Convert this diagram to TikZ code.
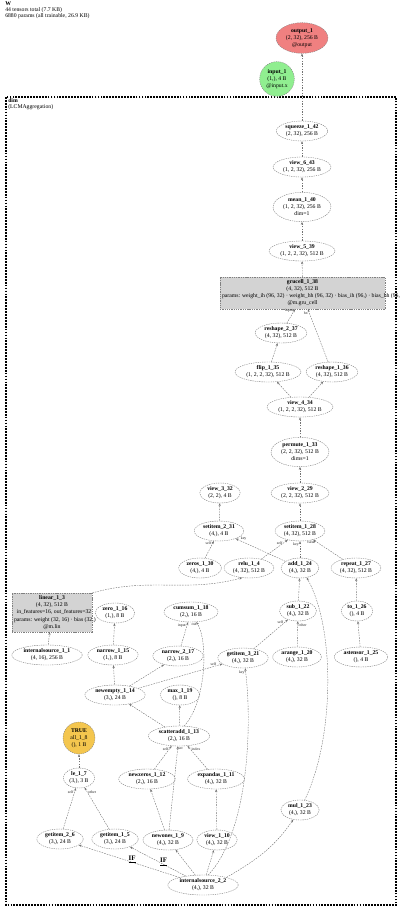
\documentclass[tikz,border=0pt]{standalone}
\usepackage{fontspec}
\setmainfont{Liberation Serif}
\usetikzlibrary{arrows.meta,shapes.geometric}
\definecolor{outred}{HTML}{F08080}
\definecolor{ingreen}{HTML}{90EE90}
\definecolor{trueyel}{HTML}{F4C64E}
\definecolor{modgray}{HTML}{D3D3D3}
\newcommand{\fs}{\fontsize{4.3}{5.3}\selectfont}
\tikzset{
  op/.style={ellipse,draw=black!50,dash pattern=on 1pt off .7pt,line width=.3pt,fill=white,
             font=\fs,align=center,inner xsep=1.2pt,inner ysep=.1pt,minimum height=15pt},
  mdl/.style={rectangle,draw=black!50,dash pattern=on 1pt off .7pt,line width=.3pt,
              fill=modgray,font=\fs,align=center,inner sep=1.5pt},
  ed/.style ={-{Stealth[length=2.2pt,width=1.7pt]},draw=black!55,line width=.3pt,
              dash pattern=on 1.2pt off .8pt},
  elb/.style={font=\fontsize{2.9}{3}\selectfont,inner sep=.3pt,text=black!85},
  iflb/.style={font=\fontsize{5.2}{6}\selectfont\bfseries,inner sep=.5pt},
  captxt/.style={anchor=north west,font=\fontsize{4.3}{4.6}\selectfont,align=left,inner sep=0pt},
}
\begin{document}
\begin{tikzpicture}[x=0.75pt,y=-0.75pt]
  \useasboundingbox (0,0) rectangle (400,911);
  \node[captxt] (hdr) at (5,1) {\textbf{W}\\44 tensors total (7.7 KB)\\6880 params (all trainable, 26.9 KB)};
  % module cluster
  \draw[line width=1.4pt,dash pattern=on 1.3pt off .9pt] (6,97) rectangle (396,905);
  \node[captxt] (dimlbl) at (8,98.5) {\textbf{dim}\\(LCMAggregation)};
  % input / output
  \node[op,fill=outred,minimum width=39pt,minimum height=23pt] (output_1) at (302,38)
       {\textbf{output\_1}\\(2, 32), 256 B\\@output};
  \node[op,circle,fill=ingreen,minimum size=26pt] (input_1) at (277,79)
       {\textbf{input\_1}\\(1,), 4 B\\@input.x};
  % upper chain
  \node[op] (squeeze_1_42) at (302,131) {\textbf{squeeze\_1\_42}\\(2, 32), 256 B};
  \node[op] (view_6_43) at (302,167) {\textbf{view\_6\_43}\\(1, 2, 32), 256 B};
  \node[op,minimum height=22pt] (mean_1_40) at (302,207) {\textbf{mean\_1\_40}\\(1, 2, 32), 256 B\\dim=1};
  \node[op] (view_5_39) at (302,251) {\textbf{view\_5\_39}\\(1, 2, 2, 32), 512 B};
  \node[mdl,minimum width=123.75pt,minimum height=24pt] (grucell_1_38) at (302.5,293)
       {\textbf{grucell\_1\_38}\\(4, 32), 512 B\\
        \makebox[120.75pt][l]{params: weight\_ih (96, 32) · weight\_hh (96, 32) · bias\_ih (96,) · bias\_hh (96,)}\\
        @m.gru\_cell};
  \node[op] (reshape_2_37) at (281,333) {\textbf{reshape\_2\_37}\\(4, 32), 512 B};
  \node[op] (flip_1_35) at (268,372) {\textbf{flip\_1\_35}\\(1, 2, 2, 32), 512 B};
  \node[op] (reshape_1_36) at (332,372) {\textbf{reshape\_1\_36}\\(4, 32), 512 B};
  \node[op] (view_4_34) at (300,407) {\textbf{view\_4\_34}\\(1, 2, 2, 32), 512 B};
  \node[op,minimum height=22pt] (permute_1_33) at (300,452) {\textbf{permute\_1\_33}\\(2, 2, 32), 512 B\\dims=1};
  \node[op] (view_2_29) at (300,493) {\textbf{view\_2\_29}\\(2, 2, 32), 512 B};
  \node[op] (view_3_32) at (220,493) {\textbf{view\_3\_32}\\(2, 2), 4 B};
  \node[op] (setitem_2_31) at (219,531) {\textbf{setitem\_2\_31}\\(4,), 4 B};
  \node[op] (setitem_1_28) at (300,531) {\textbf{setitem\_1\_28}\\(4, 32), 512 B};
  \node[op] (zeros_1_30) at (200,568) {\textbf{zeros\_1\_30}\\(4,), 4 B};
  \node[op] (relu_1_4) at (249,568) {\textbf{relu\_1\_4}\\(4, 32), 512 B};
  \node[op] (add_1_24) at (300,568) {\textbf{add\_1\_24}\\(4,), 32 B};
  \node[op] (repeat_1_27) at (356,568) {\textbf{repeat\_1\_27}\\(4, 32), 512 B};
  % middle rows
  \node[mdl,minimum width=60pt,minimum height=29pt] (linear_1_3) at (52,612.5)
       {\textbf{linear\_1\_3}\\(4, 32), 512 B\\
        \makebox[57pt][l]{\hspace{2pt}in\_features=16, out\_features=32}\\
        \makebox[57pt][l]{params: weight (32, 16) · bias (32,)}\\@m.lin};
  \node[op] (zero_1_16) at (115,613) {\textbf{zero\_1\_16}\\(1,), 8 B};
  \node[op] (cumsum_1_18) at (191,612) {\textbf{cumsum\_1\_18}\\(2,), 16 B};
  \node[op] (sub_1_22) at (298,611) {\textbf{sub\_1\_22}\\(4,), 32 B};
  \node[op] (to_1_26) at (357,611) {\textbf{to\_1\_26}\\(), 4 B};
  \node[op] (internalsource_1_1) at (47,655) {\textbf{internalsource\_1\_1}\\(4, 16), 256 B};
  \node[op] (narrow_1_15) at (113,655) {\textbf{narrow\_1\_15}\\(1,), 8 B};
  \node[op] (narrow_2_17) at (178,656) {\textbf{narrow\_2\_17}\\(2,), 16 B};
  \node[op] (getitem_3_21) at (243,658) {\textbf{getitem\_3\_21}\\(4,), 32 B};
  \node[op] (arange_1_20) at (297,657) {\textbf{arange\_1\_20}\\(4,), 32 B};
  \node[op] (astensor_1_25) at (361,657) {\textbf{astensor\_1\_25}\\(), 4 B};
  \node[op] (newempty_1_14) at (115,695) {\textbf{newempty\_1\_14}\\(3,), 24 B};
  \node[op] (max_1_19) at (180,695) {\textbf{max\_1\_19}\\(), 8 B};
  \node[op,circle,fill=trueyel,minimum size=24pt] (all_1_8) at (79,738)
       {\textbf{TRUE}\\all\_1\_8\\(), 1 B};
  \node[op] (scatteradd_1_13) at (179,736) {\textbf{scatteradd\_1\_13}\\(2,), 16 B};
  \node[op] (le_1_7) at (79,778) {\textbf{le\_1\_7}\\(3,), 3 B};
  \node[op] (newzeros_1_12) at (147,779) {\textbf{newzeros\_1\_12}\\(2,), 16 B};
  \node[op] (expandas_1_11) at (216,779) {\textbf{expandas\_1\_11}\\(4,), 32 B};
  \node[op] (mul_1_23) at (300,810) {\textbf{mul\_1\_23}\\(4,), 32 B};
  % bottom rows
  \node[op] (getitem_2_6) at (60,839) {\textbf{getitem\_2\_6}\\(3,), 24 B};
  \node[op] (getitem_1_5) at (115,839) {\textbf{getitem\_1\_5}\\(3,), 24 B};
  \node[op] (newones_1_9) at (168,840) {\textbf{newones\_1\_9}\\(4,), 32 B};
  \node[op] (view_1_10) at (217,840) {\textbf{view\_1\_10}\\(4,), 32 B};
  \node[op] (internalsource_2_2) at (203,885) {\textbf{internalsource\_2\_2}\\(4,), 32 B};
  % edges
  \draw[ed] (squeeze_1_42) -- (output_1);
  \draw[ed] (view_6_43) -- (squeeze_1_42);
  \draw[ed] (mean_1_40) -- (view_6_43);
  \draw[ed] (view_5_39) -- (mean_1_40);
  \draw[ed] (grucell_1_38) -- (view_5_39);
  \draw[ed] (reshape_2_37) -- ([xshift=-5.6pt]grucell_1_38.south)
        node[elb,pos=.93,left=.6pt]{input};
  \draw[ed] (reshape_1_36) -- ([xshift=4pt]grucell_1_38.south)
        node[elb,pos=.93,left=.6pt]{hx};
  \draw[ed] (flip_1_35) -- (reshape_2_37);
  \draw[ed] (view_4_34) -- (flip_1_35);
  \draw[ed] (view_4_34) -- (reshape_1_36);
  \draw[ed] (permute_1_33) -- (view_4_34);
  \draw[ed] (view_2_29) -- (permute_1_33);
  \draw[ed] (setitem_1_28) -- (view_2_29);
  \draw[ed] (setitem_2_31) -- (view_3_32);
  \draw[ed] (zeros_1_30) -- (setitem_2_31) node[elb,pos=.85,left=.5pt]{self};
  \draw[ed] (add_1_24) -- (setitem_2_31) node[elb,pos=.9,above right=-.3pt]{key};
  \draw[ed] (relu_1_4) -- (setitem_1_28) node[elb,pos=.85,left=.5pt]{self};
  \draw[ed] (add_1_24) -- (setitem_1_28) node[elb,pos=.8,left=.5pt]{key};
  \draw[ed] (repeat_1_27) -- (setitem_1_28) node[elb,pos=.88,left=.5pt]{value};
  \draw[ed] (linear_1_3.north east) to[out=16,in=195] (relu_1_4.235);
  \draw[ed] (internalsource_1_1) -- (linear_1_3);
  \draw[ed] (narrow_1_15) -- (zero_1_16);
  \draw[ed] (newempty_1_14) -- (narrow_1_15);
  \draw[ed] (newempty_1_14) -- (narrow_2_17);
  \draw[ed] (newempty_1_14) -- (getitem_3_21) node[elb,pos=.93,above left=-.2pt]{self};
  \draw[ed] (narrow_2_17) -- (cumsum_1_18) node[elb,pos=.85,left=.4pt]{input};
  \draw[ed] (scatteradd_1_13.62) .. controls (207,700) and (208,640) .. (cumsum_1_18.-62)
        node[elb,pos=.96,left=.4pt]{out};
  \draw[ed] (scatteradd_1_13) -- (newempty_1_14);
  \draw[ed] (scatteradd_1_13) -- (max_1_19);
  \draw[ed] (getitem_3_21) -- (sub_1_22) node[elb,pos=.9,left=.5pt]{self};
  \draw[ed] (arange_1_20) -- (sub_1_22) node[elb,pos=.85,right=.3pt]{other};
  \draw[ed] (sub_1_22) -- (add_1_24);
  \draw[ed] (mul_1_23.65) .. controls (334,740) and (336,630) .. (add_1_24.-55);
  \draw[ed] (astensor_1_25) -- (to_1_26);
  \draw[ed] (to_1_26) -- (repeat_1_27);
  \draw[ed] (le_1_7) -- (all_1_8);
  \draw[ed] (getitem_2_6) -- (le_1_7) node[elb,pos=.9,left=.4pt]{self};
  \draw[ed] (getitem_1_5) -- (le_1_7) node[elb,pos=.9,right=.4pt]{other};
  \draw[ed] (newzeros_1_12) -- (scatteradd_1_13) node[elb,pos=.88,left=.4pt]{self};
  \draw[ed] (newones_1_9) -- (scatteradd_1_13) node[elb,pos=.97,right=.2pt]{src};
  \draw[ed] (newones_1_9) -- (newzeros_1_12);
  \draw[ed] (expandas_1_11) -- (scatteradd_1_13) node[elb,pos=.85,right=.4pt]{index};
  \draw[ed] (view_1_10) -- (expandas_1_11);
  \draw[ed] (internalsource_2_2) -- (getitem_2_6) node[iflb,pos=.47,above=-1.6pt]{\underline{IF}};
  \draw[ed] (internalsource_2_2) -- (getitem_1_5) node[iflb,pos=.4,above=-1.6pt]{\underline{IF}};
  \draw[ed] (internalsource_2_2) -- (newones_1_9);
  \draw[ed] (internalsource_2_2) -- (view_1_10);
  \draw[ed] (internalsource_2_2.18) to[out=30,in=-125] (mul_1_23);
  \draw[ed] (internalsource_2_2.62) .. controls (250,830) and (252,720) .. (getitem_3_21.-78)
        node[elb,pos=.97,left=.4pt]{key};
\end{tikzpicture}
\end{document}
